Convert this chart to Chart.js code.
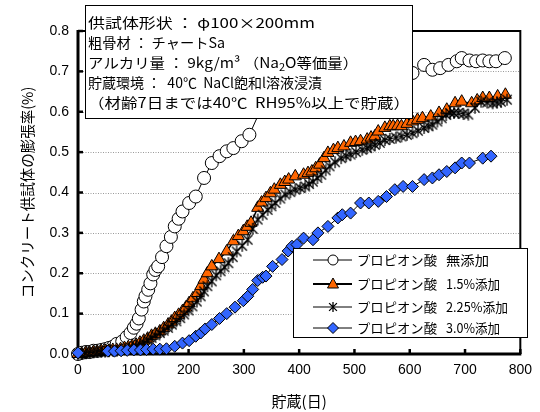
<!DOCTYPE html>
<html><head><meta charset="utf-8">
<script src="https://cdn.jsdelivr.net/npm/chart.js@4.4.1/dist/chart.umd.min.js"></script>
<style>html,body{margin:0;padding:0;background:#fff}#wrap{width:540px;height:412px}</style>
</head><body><div id="wrap"><canvas id="c" width="540" height="412"></canvas></div>
<script>
// ---- data ----
const days1 = [0,7,14,21,28,35,42,49,56,63,70,80,88,95,101,106,110,115,119,122,127,131,136,140,145,152,160,168,175,182,189,201,213,228,242,256,269,281,296,310,332,350,370,395,420,450,480,510,540,575,605,626,641,655,670,685,694,708,720,732,744,756,772];
const vals1 = [0,0.003,0.005,0.005,0.008,0.008,0.01,0.012,0.015,0.018,0.025,0.031,0.042,0.052,0.065,0.075,0.088,0.11,0.13,0.143,0.159,0.175,0.197,0.208,0.217,0.24,0.267,0.29,0.316,0.335,0.353,0.374,0.39,0.436,0.473,0.49,0.502,0.51,0.527,0.543,0.61,0.63,0.645,0.655,0.665,0.675,0.68,0.685,0.69,0.69,0.696,0.716,0.704,0.708,0.716,0.725,0.733,0.727,0.725,0.727,0.725,0.725,0.733];

const days2 = [0,7,14,21,28,35,42,49,56,63,70,77,84,91,98,105,112,119,126,133,140,148,155,163,169,175,182,189,195,201,208,216,222,228,234,242,255,269,281,290,299,306,313,325,332,340,348,355,366,374,381,393,408,416,423,430,437,445,452,462,470,481,493,502,511,523,530,537,543,555,564,570,578,585,595,605,614,623,638,653,667,682,694,712,722,732,744,759,773];
const vals2 = [0,0,0.003,0.003,0.005,0.005,0.007,0.008,0.008,0.01,0.01,0.012,0.015,0.017,0.02,0.023,0.028,0.033,0.038,0.045,0.05,0.056,0.064,0.073,0.08,0.089,0.097,0.106,0.115,0.126,0.138,0.151,0.168,0.184,0.2,0.217,0.235,0.254,0.279,0.292,0.304,0.315,0.325,0.362,0.375,0.386,0.398,0.407,0.419,0.426,0.432,0.44,0.444,0.448,0.452,0.46,0.469,0.485,0.498,0.505,0.51,0.514,0.523,0.525,0.527,0.531,0.536,0.539,0.551,0.56,0.564,0.564,0.565,0.564,0.57,0.576,0.58,0.584,0.588,0.597,0.605,0.621,0.625,0.621,0.628,0.634,0.634,0.638,0.642];

const days3 = [0,7,14,21,28,35,42,49,56,63,70,77,84,91,98,105,112,119,126,133,140,148,155,163,170,178,185,192,200,207,215,222,228,234,242,250,258,265,272,280,287,297,307,316,325,334,343,350,357,366,375,384,393,402,411,418,425,433,440,448,455,465,476,485,493,503,514,523,529,537,546,555,564,575,585,595,605,615,626,634,641,650,658,666,673,680,688,697,706,718,729,740,750,758,765,776];
const vals3 = [0,0,0.002,0.003,0.004,0.005,0.005,0.006,0.007,0.008,0.008,0.01,0.012,0.014,0.016,0.02,0.024,0.028,0.034,0.04,0.046,0.052,0.058,0.065,0.073,0.081,0.089,0.098,0.108,0.118,0.13,0.143,0.155,0.168,0.18,0.195,0.205,0.215,0.225,0.24,0.254,0.268,0.283,0.31,0.333,0.345,0.357,0.366,0.374,0.385,0.395,0.401,0.407,0.411,0.415,0.421,0.427,0.436,0.444,0.455,0.465,0.475,0.485,0.49,0.494,0.5,0.506,0.51,0.514,0.518,0.523,0.53,0.533,0.536,0.539,0.543,0.547,0.553,0.56,0.564,0.568,0.576,0.584,0.592,0.597,0.597,0.597,0.595,0.593,0.61,0.625,0.623,0.621,0.623,0.625,0.63];

const days4 = [0,54,66,78,89,101,113,124,136,148,160,175,189,201,213,222,230,242,256,269,284,299,307,316,325,334,340,352,369,380,387,396,408,425,434,452,470,478,493,511,526,543,558,573,588,605,626,641,653,667,682,694,708,732,747];
const vals4 = [0.003,0.007,0.007,0.008,0.009,0.01,0.01,0.011,0.012,0.012,0.013,0.019,0.027,0.033,0.044,0.052,0.062,0.073,0.088,0.1,0.116,0.132,0.143,0.16,0.182,0.19,0.193,0.217,0.234,0.255,0.267,0.271,0.287,0.283,0.3,0.316,0.337,0.345,0.349,0.374,0.374,0.378,0.39,0.407,0.415,0.415,0.432,0.436,0.444,0.452,0.461,0.473,0.473,0.485,0.49];

const xTicks = [0,100,200,300,400,500,600,700,800];
const yTicks = [0,0.1,0.2,0.3,0.4,0.5,0.6,0.7,0.8];
const legendPrefix = 'プロピオン酸';
const legendSuffix = ['無添加','1.5%添加','2.25%添加','3.0%添加'];
const xTitle = '貯蔵(日)';
const yTitle = 'コンクリート供試体の膨張率(%)';
const infoLines = ['供試体形状 ： φ100×200mm','粗骨材 ： チャートSa','アルカリ量 ： 9kg/m³ （Na','貯蔵環境 ：  40℃  NaCl飽和l溶液浸漬','（材齢7日までは40℃  RH95%以上で貯蔵）'];
const infoSub = ['2','O等価量）'];

// ---- styles ----
const FONT = '"Liberation Sans",sans-serif';
const JFONT = '"Noto Sans CJK JP","Liberation Sans",sans-serif';
const ORANGE = '#FF6600', BLUE = '#3366FF';

function makeStar(size){
  const c=document.createElement('canvas'); c.width=c.height=size;
  const g=c.getContext('2d'); const m=size/2, r=size/2-1;
  g.strokeStyle='#000'; g.lineWidth=1.3; g.beginPath();
  g.moveTo(m,m-r); g.lineTo(m,m+r);
  const d=r*0.78;
  g.moveTo(m-d,m-d); g.lineTo(m+d,m+d);
  g.moveTo(m+d,m-d); g.lineTo(m-d,m+d);
  g.stroke(); return c;
}
const starImg = makeStar(14);
const starImgS = makeStar(12);

function pts(d,v){ return d.map((x,i)=>({x:x,y:v[i]})); }

const datasets = [
  {data:pts(days1,vals1), borderColor:'#000', borderWidth:1, pointStyle:'circle', pointRadius:6.5, pointBackgroundColor:'#fff', pointBorderColor:'#000', pointBorderWidth:1, order:4},
  {data:pts(days2,vals2), borderColor:'#000', borderWidth:1.5, pointStyle:'triangle', pointRadius:7, pointBackgroundColor:ORANGE, pointBorderColor:'#000', pointBorderWidth:1, order:3},
  {data:pts(days3,vals3), borderColor:'#000', borderWidth:1, pointStyle:starImg, pointRadius:7, order:2},
  {data:pts(days4,vals4), borderColor:'#000', borderWidth:1, pointStyle:'rectRot', pointRadius:6, pointBackgroundColor:BLUE, pointBorderColor:'#000', pointBorderWidth:1, order:1}
];
datasets.forEach(d=>{d.showLine=true; d.fill=false; d.tension=0; d.clip=false;});

function fitText(ctx, t, x, y, targetW){
  const w = ctx.measureText(t).width;
  ctx.save(); ctx.translate(x,y); ctx.scale(targetW/w,1); ctx.fillText(t,0,0); ctx.restore();
  return targetW;
}

const framePlugin = {
  id:'frame',
  beforeDatasetsDraw(chart){
    const {ctx, chartArea:a, scales:{x,y}} = chart;
    ctx.save();
    ctx.strokeStyle='#9a9a9a'; ctx.lineWidth=1; ctx.setLineDash([1,1.5]);
    yTicks.forEach(v=>{ if(v<=0||v>=0.8) return; const py=Math.round(y.getPixelForValue(v))+0.5;
      ctx.beginPath(); ctx.moveTo(a.left,py); ctx.lineTo(a.right,py); ctx.stroke(); });
    ctx.setLineDash([]);
    ctx.strokeStyle='#000';
    ctx.lineWidth=2;
    ctx.beginPath(); ctx.moveTo(a.left,a.top); ctx.lineTo(a.right,a.top); ctx.lineTo(a.right,a.bottom); ctx.stroke();
    ctx.lineWidth=3;
    ctx.beginPath(); ctx.moveTo(a.left,a.top-1); ctx.lineTo(a.left,a.bottom); ctx.lineTo(a.right+1,a.bottom); ctx.stroke();
    ctx.lineWidth=2.5;
    yTicks.forEach(v=>{ const py=y.getPixelForValue(v); ctx.beginPath(); ctx.moveTo(a.left,py); ctx.lineTo(a.left+5,py); ctx.stroke(); });
    xTicks.forEach(v=>{ const px=x.getPixelForValue(v); ctx.beginPath(); ctx.moveTo(px,a.bottom); ctx.lineTo(px,a.bottom-5); ctx.stroke(); });
    ctx.restore();
  },
  afterDraw(chart){
    const ctx = chart.ctx;
    ctx.save();
    // info box
    ctx.fillStyle='#fff'; ctx.fillRect(85,5,328,114);
    ctx.strokeStyle='#000'; ctx.lineWidth=1; ctx.strokeRect(85.5,5.5,327,113);
    ctx.fillStyle='#000'; ctx.textBaseline='middle'; ctx.textAlign='left';
    const ys=[23,43,63,83,103];
    const widths=[227,137,0,234,322];
    infoLines.forEach((t,i)=>{
      ctx.font='14px '+JFONT;
      if(i===2){
        const w0=ctx.measureText(t).width;
        const sc=1.1;
        ctx.save(); ctx.translate(88,ys[i]); ctx.scale(sc,1);
        ctx.fillText(t,0,0);
        ctx.font='10px '+JFONT; ctx.fillText(infoSub[0],w0,4);
        const w2=ctx.measureText(infoSub[0]).width;
        ctx.font='14px '+JFONT; ctx.fillText(infoSub[1],w0+w2,0);
        ctx.restore();
      } else {
        fitText(ctx,t,88,ys[i],widths[i]);
      }
    });
    // legend
    const L=293,T=248,W=235,H=90;
    ctx.fillStyle='#fff'; ctx.fillRect(L,T,W,H);
    ctx.strokeStyle='#000'; ctx.lineWidth=1; ctx.strokeRect(L+0.5,T+0.5,W-1,H-1);
    const rows=[260,284,307,328];
    const sufW=[43,54,62,54];
    rows.forEach((ry,i)=>{
      ctx.strokeStyle='#000'; ctx.lineWidth= i===1?2:1;
      ctx.beginPath(); ctx.moveTo(313,ry); ctx.lineTo(352,ry); ctx.stroke();
      ctx.lineWidth=1;
      const mx=333;
      if(i===0){ ctx.fillStyle='#fff'; ctx.beginPath(); ctx.arc(mx,ry,5,0,Math.PI*2); ctx.fill(); ctx.stroke(); }
      if(i===1){ ctx.fillStyle=ORANGE; ctx.beginPath(); ctx.moveTo(mx,ry-6); ctx.lineTo(mx+5.5,ry+4); ctx.lineTo(mx-5.5,ry+4); ctx.closePath(); ctx.fill(); ctx.stroke(); }
      if(i===2){ ctx.drawImage(starImgS,mx-6,ry-6); }
      if(i===3){ ctx.fillStyle=BLUE; ctx.beginPath(); ctx.moveTo(mx,ry-5.5); ctx.lineTo(mx+5.5,ry); ctx.lineTo(mx,ry+5.5); ctx.lineTo(mx-5.5,ry); ctx.closePath(); ctx.fill(); ctx.stroke(); }
      ctx.fillStyle='#000'; ctx.font='13px '+JFONT; ctx.textBaseline='middle';
      fitText(ctx,legendPrefix,357,ry,80);
      fitText(ctx,legendSuffix[i],446,ry,sufW[i]);
    });
    ctx.restore();
  }
};

new Chart(document.getElementById('c'), {
  type:'scatter',
  data:{datasets},
  options:{
    responsive:false, animation:false, devicePixelRatio:1,
    layout:{padding:{top:31,right:10,left:0,bottom:0}},
    plugins:{legend:{display:false}, tooltip:{enabled:false}},
    scales:{
      x:{type:'linear', min:0, max:800,
        afterFit(s){ s.height=58; },
        afterBuildTicks(s){ s.ticks = xTicks.map(v=>({value:v})); },
        ticks:{color:'#000', font:{family:FONT,size:14}, padding:8, maxRotation:0},
        grid:{display:false, drawTicks:false}, border:{display:false},
        title:{display:true, text:xTitle, color:'#000', font:{family:JFONT,size:15}, padding:{top:0,bottom:2}}
      },
      y:{type:'linear', min:0, max:0.8,
        afterFit(s){ s.width=78; },
        afterBuildTicks(s){ s.ticks = yTicks.map(v=>({value:v})); },
        ticks:{color:'#000', font:{family:FONT,size:14}, padding:9, callback:v=>Number(v).toFixed(1)},
        grid:{display:false, drawTicks:false}, border:{display:false},
        title:{display:true, text:yTitle, color:'#000', font:{family:JFONT,size:14.5}, padding:{top:19,bottom:0}}
      }
    }
  },
  plugins:[framePlugin]
});
</script></body></html>
